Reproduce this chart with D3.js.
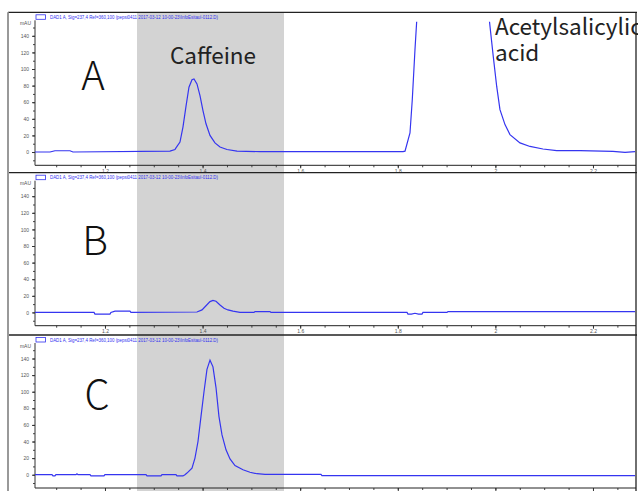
<!DOCTYPE html>
<html><head><meta charset="utf-8">
<script src="https://cdn.jsdelivr.net/npm/d3@7"></script>
<style>body{margin:0;background:#fff}svg{display:block}</style>
</head><body>
<svg id="c" width="638" height="491"></svg>
<script>
// ---- data ----
const panelLabels = ["A", "B", "C"];
const xTicks = [1.2, 1.4, 1.6, 1.8, 2.0, 2.2];
const xTickLabels = ["1.2", "1.4", "1.6", "1.8", "2", "2.2"];
const yTicks = [0, 20, 40, 60, 80, 100, 120, 140];
const legendText = "DAD1 A, Sig=237,4 Ref=360,100 (pepsi0411 2017-03-12 10-00-23\\InfoEsitaul-0112.D)";
const highlightRange = [1.2656, 1.5668];
const peakNames = ["Caffeine", "Acetylsalicylic acid"];

const timeA = [1.0566,1.0873,1.0975,1.1283,1.1344,1.3332,1.3434,1.3455,1.3537,1.3598,1.3660,1.3721,1.3783,1.3824,1.3885,1.3947,1.4008,1.4070,1.4152,1.4254,1.4357,1.4500,1.4705,1.5176,1.5996,1.8107,1.8148,1.8250,1.8297,1.8352,1.8387,1.8450,1.8700,1.9200,1.9600,1.9800,1.9957,2.0027,2.0094,2.0197,2.0299,2.0504,2.0709,2.0975,2.1256,2.1734,2.2410,2.2656,2.2881];
const valueA = [0,0,1.5,1.5,0,1,3,5,12,30,55,78,87,88,82,68,50,34,20,11,6,3,1,0.5,0.5,0.5,1,23,63,123,157,400,900,700,400,200,115,79,51,33,21,11,6.7,3.6,1.6,1.6,0.7,-0.5,0.5];

const timeB = [1.0566,1.1775,1.1795,1.2102,1.2122,1.2205,1.2512,1.2532,1.3885,1.3988,1.4070,1.4152,1.4213,1.4275,1.4357,1.4439,1.4520,1.4623,1.4766,1.5054,1.5074,1.5381,1.5401,1.8189,1.8209,1.8280,1.8352,1.8424,1.8496,1.8516,1.9009,1.9029,2.2881];
const valueB = [0,0,-2,-2,0,1.5,1.5,0,0.5,3,8,13,14.5,13.5,9,5,3,1.5,0,0,1,1,0,0,-2,-2,-1,-2,-2,0,0,1,1];

const timeC = [1.0566,1.0914,1.0934,1.0975,1.0995,1.1406,1.1426,1.1446,1.1693,1.1713,1.1979,1.1999,1.2841,1.2861,1.3148,1.3168,1.3455,1.3475,1.3598,1.3639,1.3680,1.3783,1.3844,1.3906,1.3967,1.4029,1.4090,1.4152,1.4213,1.4275,1.4336,1.4398,1.4480,1.4562,1.4664,1.4828,1.4971,1.5115,1.5279,1.6426,1.6446,2.2881];
const valueC = [0,0,-1.5,-1.5,0,0,1,0,0,-1.5,-1.5,0,0,-1.5,-1.5,0,0,-1.5,-1.5,0,2,8,20,40,70,100,127,138,130,105,70,48,30,19,11,6,3,1.2,0.5,0.5,-1,-1];

const series = [
  timeA.map((t,i)=>({t, v:valueA[i]})),
  timeB.map((t,i)=>({t, v:valueB[i]})),
  timeC.map((t,i)=>({t, v:valueC[i]}))
];

// ---- layout ----
const W = 638, H = 491;
const plotLeft = 35, plotRight = 635;
const panelTops = [12.3, 172.7, 335];
const svg = d3.select("#c");

const x = d3.scaleLinear().domain([1.0566, 2.2861]).range([plotLeft, plotRight]);

// highlight band
svg.append("rect")
  .attr("x", x(highlightRange[0])).attr("y", panelTops[0])
  .attr("width", x(highlightRange[1]) - x(highlightRange[0]))
  .attr("height", H - panelTops[0])
  .attr("fill", "#d3d3d3");

const line = d3.line().x(d=>x(d.t));

panelTops.forEach((T, pi) => {
  const y = d3.scaleLinear().domain([-16, 157]).range([T + 153, T + 9.4]);
  const g = svg.append("g");

  const cid = "clip" + pi;
  svg.append("clipPath").attr("id", cid).append("rect")
    .attr("x", plotLeft).attr("y", T + 9.4)
    .attr("width", plotRight - plotLeft).attr("height", 143.6);

  // x axis
  const xMinor = d3.range(1.1, 2.29, 0.05).map(v => +v.toFixed(2));
  g.append("g").attr("transform", `translate(0,${T+153})`)
    .call(d3.axisBottom(x).tickValues(xMinor).tickSize(2).tickFormat(""))
    .call(a => { a.select(".domain").remove(); a.selectAll("line").attr("stroke","#444"); });
  const xa = g.append("g").attr("transform", `translate(0,${T+153})`)
    .call(d3.axisBottom(x).tickValues(xTicks).tickSize(3).tickPadding(1)
      .tickFormat((d,i)=>xTickLabels[i]));
  xa.select(".domain").remove();
  xa.selectAll("line").attr("stroke","#333");
  xa.selectAll("text").attr("font-size", 5).attr("fill","#555").attr("font-family","Liberation Sans, Arial, sans-serif");
  g.append("line").attr("x1", plotLeft).attr("x2", plotRight + 1)
    .attr("y1", T + 153).attr("y2", T + 153).attr("stroke", "#222").attr("stroke-width", 1);

  // y axis
  const ya = g.append("g").attr("transform", `translate(${plotLeft},0)`)
    .call(d3.axisLeft(y).tickValues(d3.range(-10, 151, 10)).tickSize(2).tickFormat(""));
  ya.select(".domain").remove();
  ya.selectAll("line").attr("stroke","#444");
  const ya2 = g.append("g").attr("transform", `translate(${plotLeft},0)`)
    .call(d3.axisLeft(y).tickValues(yTicks).tickSize(3).tickPadding(3));
  ya2.select(".domain").remove();
  ya2.selectAll("line").attr("stroke","#333");
  ya2.selectAll("text").attr("font-size", 5).attr("fill","#555").attr("font-family","Liberation Sans, Arial, sans-serif");
  g.append("line").attr("x1", plotLeft).attr("x2", plotLeft)
    .attr("y1", T + 153).attr("y2", T + 8).attr("stroke", "#333").attr("stroke-width", 1);
  g.append("text").attr("x", plotLeft - 4).attr("y", y(155) + 1.5).attr("text-anchor","end")
    .attr("font-size", 5).attr("fill","#555").attr("font-family","Liberation Sans, Arial, sans-serif").text("mAU");

  // legend
  g.append("rect").attr("x", 36).attr("y", T + 2.5).attr("width", 9.5).attr("height", 4.5)
    .attr("fill", "#fff").attr("stroke", "#3030f0").attr("stroke-width", 0.8);
  g.append("text").attr("x", 50).attr("y", T + 6.5).attr("font-size", 5)
    .attr("fill", "#3030f0").attr("font-family","Liberation Sans, Arial, sans-serif")
    .attr("textLength", 168).attr("lengthAdjust","spacingAndGlyphs").text(legendText);

  // data line
  g.append("path").datum(series[pi])
    .attr("clip-path", `url(#${cid})`)
    .attr("d", line.y(d=>y(d.v)))
    .attr("fill", "none").attr("stroke", "#3535f0").attr("stroke-width", 1.2);

  // panel top border
  svg.append("line").attr("x1", 8).attr("x2", 637).attr("y1", T).attr("y2", T)
    .attr("stroke", "#222").attr("stroke-width", 1.3);

  // panel letter
  svg.append("text").attr("x", [93,95,97][pi]).attr("y", T + [78,82,74][pi])
    .attr("text-anchor","middle").attr("font-size", 40).attr("font-weight", 300)
    .attr("font-family","Noto Sans CJK JP, Noto Sans, sans-serif").attr("fill","#111")
    .text(panelLabels[pi]);
});

// frame borders
svg.append("line").attr("x1", 8).attr("x2", 8).attr("y1", panelTops[0]).attr("y2", H)
  .attr("stroke", "#999").attr("stroke-width", 2);
svg.append("line").attr("x1", 636).attr("x2", 636).attr("y1", panelTops[0]).attr("y2", H)
  .attr("stroke", "#222").attr("stroke-width", 1.3);

// peak labels
const lblFont = "Noto Sans CJK JP, Noto Sans, sans-serif";
svg.append("text").attr("x", 213).attr("y", 64).attr("text-anchor","middle")
  .attr("font-size", 22.5).attr("font-family", lblFont).attr("fill","#222").text(peakNames[0]);
svg.append("text").attr("x", 495).attr("y", 35)
  .attr("font-size", 22.5).attr("font-family", lblFont).attr("fill","#222").text(peakNames[1].split(" ")[0]);
svg.append("text").attr("x", 495).attr("y", 61)
  .attr("font-size", 22.5).attr("font-family", lblFont).attr("fill","#222").text(peakNames[1].split(" ")[1]);
</script>
</body></html>
